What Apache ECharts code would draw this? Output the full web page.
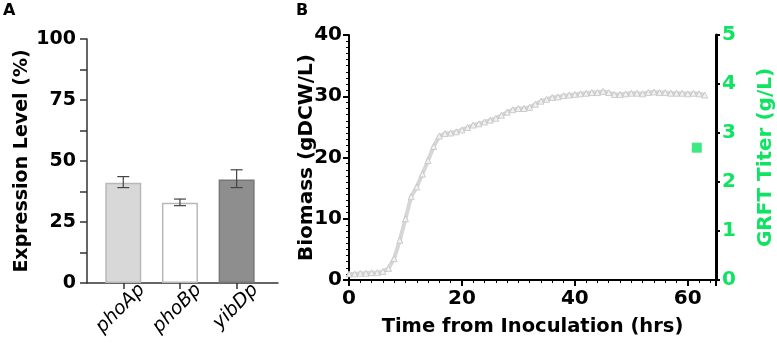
<!DOCTYPE html>
<html>
<head>
<meta charset="utf-8">
<script src="https://cdn.jsdelivr.net/npm/echarts@6/dist/echarts.min.js"></script>
<style>
  html, body { margin: 0; padding: 0; background: #fff; }
  #main { width: 777px; height: 346px; }
</style>
</head>
<body>
<div id="main"></div>
<script>
// panel A: expression level of promoters
var promoters = ['phoAp', 'phoBp', 'yibDp'];
var expression = [41.1, 32.9, 42.4];
var errLow = [39.1, 31.7, 39.1];
var errHigh = [43.6, 34.4, 46.4];
var barFill = ['#d8d8d8', '#ffffff', '#8e8e8e'];
var barEdge = ['#b8b8b8', '#b8b8b8', '#777777'];

// panel B: biomass over time + one titer point
var hours = [0, 1, 2, 3, 4, 5, 6, 7, 8, 9, 10, 11, 12, 13, 14, 15, 16, 17, 18, 19,
  20, 21, 22, 23, 24, 25, 26, 27, 28, 29, 30, 31, 32, 33, 34, 35, 36, 37, 38, 39,
  40, 41, 42, 43, 44, 45, 46, 47, 48, 49, 50, 51, 52, 53, 54, 55, 56, 57, 58, 59,
  60, 61, 62, 63];
var biomass = [1.0, 1.0, 1.1, 1.1, 1.2, 1.2, 1.4, 1.9, 3.5, 6.5, 10.0, 13.6, 15.2, 17.3, 19.5, 21.8, 23.5, 23.9, 24.0, 24.2,
  24.5, 24.9, 25.3, 25.5, 25.8, 26.1, 26.4, 26.9, 27.4, 27.8, 28.0, 28.0, 28.2, 28.7, 29.2, 29.5, 29.8, 29.9, 30.1, 30.2,
  30.3, 30.4, 30.5, 30.6, 30.6, 30.8, 30.6, 30.3, 30.3, 30.4, 30.5, 30.5, 30.4, 30.6, 30.7, 30.6, 30.6, 30.5, 30.5, 30.5,
  30.4, 30.5, 30.4, 30.2];
var titerTime = [61.6];
var titer = [2.7];

var green = '#0fe362';
var font = '"DejaVu Sans", sans-serif';

var myChart = echarts.init(document.getElementById('main'), null, { renderer: 'canvas' });

myChart.setOption({
  animation: false,
  title: [
    { text: 'A', left: 3, top: 3, padding: 0, textStyle: { fontFamily: font, fontSize: 16, fontWeight: 'bold', color: '#000' } },
    { text: 'B', left: 296, top: 3, padding: 0, textStyle: { fontFamily: font, fontSize: 16, fontWeight: 'bold', color: '#000' } }
  ],
  grid: [
    { left: 87, top: 39, width: 191, height: 244 },
    { left: 349, top: 35, width: 367, height: 245 },
    { left: 87, top: 39, width: 191, height: 244 } // only carries the slanted labels
  ],
  xAxis: [
    {
      gridIndex: 0, type: 'value', min: -0.64, max: 2.73,
      splitLine: { show: false },
      axisLine: { onZero: false, lineStyle: { color: '#333', width: 1.5 } },
      axisTick: { customValues: [0, 1, 2], length: 6, lineStyle: { color: '#333', width: 1.5 } },
      axisLabel: { show: false }
    },
    {
      gridIndex: 1, type: 'value', min: 0, max: 65, interval: 20,
      splitLine: { show: false },
      axisLine: { onZero: false, lineStyle: { color: '#000', width: 2 } },
      axisTick: { length: 6, lineStyle: { color: '#000', width: 2 } },
      minorTick: { show: true, splitNumber: 10, length: 3, lineStyle: { color: '#000', width: 1 } },
      axisLabel: { margin: 9, showMaxLabel: false, fontFamily: font, fontSize: 20, fontWeight: 'bold', color: '#000' },
      name: 'Time from Inoculation (hrs)', nameLocation: 'middle', nameGap: 37, nameMoveOverlap: false,
      nameTextStyle: { fontFamily: font, fontSize: 19.5, fontWeight: 'bold', color: '#000' }
    },
    {
      gridIndex: 2, type: 'value', min: -0.97, max: 2.40,
      splitLine: { show: false }, axisLine: { show: false }, axisTick: { show: false },
      axisLabel: {
        customValues: [0, 1, 2], rotate: 45, margin: 4,
        fontFamily: font, fontSize: 19, fontStyle: 'italic', color: '#000',
        formatter: function (v) { return promoters[Math.round(v)]; }
      }
    }
  ],
  yAxis: [
    {
      gridIndex: 0, type: 'value', min: 0, max: 100, interval: 12.5,
      splitLine: { show: false },
      axisLine: { show: true, onZero: false, lineStyle: { color: '#333', width: 1.5 } },
      axisTick: { show: true, length: 7, lineStyle: { color: '#333', width: 1.5 } },
      axisLabel: {
        margin: 11, fontFamily: font, fontSize: 19, fontWeight: 'bold', color: '#000',
        formatter: function (v) { return v % 25 === 0 ? String(v) : ''; }
      },
      name: 'Expression Level (%)', nameLocation: 'middle', nameGap: 55, nameMoveOverlap: false,
      nameTextStyle: { fontFamily: font, fontSize: 19, fontWeight: 'bold', color: '#000' }
    },
    {
      gridIndex: 1, type: 'value', min: 0, max: 40, interval: 10,
      splitLine: { show: false },
      axisLine: { show: true, onZero: false, lineStyle: { color: '#000', width: 2 } },
      axisTick: { show: true, length: 6, lineStyle: { color: '#000', width: 2 } },
      minorTick: { show: true, splitNumber: 10, length: 3, lineStyle: { color: '#000', width: 1 } },
      axisLabel: { margin: 7, fontFamily: font, fontSize: 20, fontWeight: 'bold', color: '#000' },
      name: 'Biomass (gDCW/L)', nameLocation: 'middle', nameGap: 32, nameMoveOverlap: false,
      nameTextStyle: { fontFamily: font, fontSize: 20, fontWeight: 'bold', color: '#000' }
    },
    {
      gridIndex: 1, type: 'value', position: 'right', min: 0, max: 5, interval: 1,
      splitLine: { show: false },
      axisLine: { show: true, onZero: false, lineStyle: { color: '#000', width: 3 } },
      axisTick: { show: true, length: 4, lineStyle: { color: '#000', width: 2 } },
      axisLabel: { margin: 6, fontFamily: font, fontSize: 20, fontWeight: 'bold', color: green },
      name: 'GRFT Titer (g/L)', nameLocation: 'middle', nameGap: 40, nameRotate: 90, nameMoveOverlap: false,
      nameTextStyle: { fontFamily: font, fontSize: 20, fontWeight: 'bold', color: green }
    },
    {
      gridIndex: 2, type: 'value', min: 0, max: 100, show: false
    }
  ],
  series: [
    {
      type: 'bar', xAxisIndex: 0, yAxisIndex: 0, barWidth: 36,
      data: expression.map(function (v, i) {
        return { value: [i, v], itemStyle: { color: barFill[i], borderColor: barEdge[i], borderWidth: 1.5 } };
      })
    },
    {
      type: 'custom', xAxisIndex: 0, yAxisIndex: 0, z: 5,
      data: promoters.map(function (p, i) { return [i, errLow[i], errHigh[i]]; }),
      renderItem: function (params, api) {
        var lo = api.coord([api.value(0), api.value(1)]);
        var hi = api.coord([api.value(0), api.value(2)]);
        var w = 6;
        var st = { stroke: '#444', lineWidth: 1.2 };
        return {
          type: 'group',
          children: [
            { type: 'line', shape: { x1: lo[0], y1: lo[1], x2: hi[0], y2: hi[1] }, style: st },
            { type: 'line', shape: { x1: lo[0] - w, y1: lo[1], x2: lo[0] + w, y2: lo[1] }, style: st },
            { type: 'line', shape: { x1: hi[0] - w, y1: hi[1], x2: hi[0] + w, y2: hi[1] }, style: st }
          ]
        };
      }
    },
    {
      type: 'line', xAxisIndex: 1, yAxisIndex: 1,
      data: hours.map(function (t, i) { return [t, biomass[i]]; }),
      symbol: 'triangle', symbolSize: 6, showSymbol: true,
      itemStyle: { color: '#f2f2f2', borderColor: '#c2c2c2', borderWidth: 0.8 },
      lineStyle: { color: '#d6d6d6', width: 4 }
    },
    {
      type: 'scatter', xAxisIndex: 1, yAxisIndex: 2,
      data: titerTime.map(function (t, i) { return [t, titer[i]]; }),
      symbol: 'rect', symbolSize: 10,
      itemStyle: { color: green }
    }
  ]
});
</script>
</body>
</html>
